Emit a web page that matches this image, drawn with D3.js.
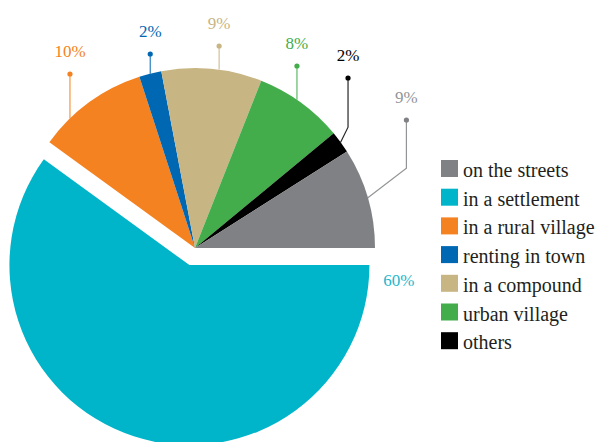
<!DOCTYPE html>
<html>
<head>
<meta charset="utf-8">
<script src="https://cdn.jsdelivr.net/npm/d3@7"></script>
</head>
<body style="margin:0">
<div id="chart"></div>
<script>
// Data, in legend order
const categories = ["on the streets", "in a settlement", "in a rural village",
    "renting in town", "in a compound", "urban village", "others"];
const shares = [9, 60, 10, 2, 9, 8, 2];
const colors = ["#808184", "#00b5c9", "#f58220", "#0068b3", "#c8b584", "#43ad4c", "#000000"];
const labelColors = ["#939598", "#1db7cc", "#f58220", "#0068b3", "#c8b584", "#43ad4c", "#000000"];
// order the slices are laid out clockwise from 3 o'clock
const sliceOrder = [1, 2, 3, 4, 5, 6, 0];

const width = 604, height = 442;
const cx = 195, cy = 248, R = 180;
const explode = 18;
const serif = "Liberation Serif";

// leader line layout per category (degrees / px)
const leaders = [
    {nudge: 0, elbowR: 226, elbowNudge: -4.5, rise: 128},
    null,
    {nudge: -8, rise: 174},
    {nudge: 0, rise: 194},
    {nudge: 2.3, rise: 202},
    {nudge: -1.5, rise: 182},
    {nudge: 0, elbowR: 195, elbowNudge: -2.3, rise: 170}
];

const rad = Math.PI / 180;
const polar = (a, r) => [cx + r * Math.sin(a), cy - r * Math.cos(a)];

const svg = d3.select("#chart")
    .append("svg")
    .attr("width", width)
    .attr("height", height)
    .style("display", "block");

const data = sliceOrder.map(i => ({i, value: shares[i]}));

const pie = d3.pie()
    .sort(null)
    .value(d => d.value)
    .startAngle(Math.PI / 2)
    .endAngle(Math.PI / 2 + 2 * Math.PI);

const arc = d3.arc().innerRadius(0).outerRadius(R);
const arcs = pie(data);

// slices
svg.append("g")
    .attr("transform", `translate(${cx},${cy})`)
    .selectAll("path")
    .data(arcs)
    .join("path")
    .attr("fill", d => colors[d.data.i])
    .attr("transform", d => {
        if (d.data.i !== 1) return null;
        const m = (d.startAngle + d.endAngle) / 2;
        return `translate(${explode * Math.sin(m)},${-explode * Math.cos(m)})`;
    })
    .attr("d", arc);

// labels with leader lines
const labels = svg.append("g");
arcs.forEach(d => {
    const i = d.data.i;
    const mid = (d.startAngle + d.endAngle) / 2;
    const txt = shares[i] + "%";
    const L = leaders[i];

    if (!L) {
        // exploded slice: plain label beside it
        const ox = explode * Math.sin(mid), oy = -explode * Math.cos(mid);
        const p = polar(Math.PI / 2 + 4 * rad, R + 30);
        labels.append("text")
            .attr("x", p[0] + ox)
            .attr("y", p[1] + oy + 6)
            .attr("text-anchor", "middle")
            .attr("fill", labelColors[i])
            .attr("font-family", serif)
            .attr("font-size", 17)
            .text(txt);
        return;
    }

    const a = mid + L.nudge * rad;
    const anchor = polar(a, R);
    const pts = [anchor];
    let top = anchor;
    if (L.elbowR) {
        top = polar(a + L.elbowNudge * rad, L.elbowR);
        pts.push(top);
    }
    const dot = [top[0], cy - L.rise];
    pts.push(dot);

    labels.append("path")
        .attr("d", d3.line()(pts))
        .attr("fill", "none")
        .attr("stroke", colors[i])
        .attr("stroke-width", 1.2)
        .attr("stroke-opacity", 0.85);

    labels.append("circle")
        .attr("cx", dot[0])
        .attr("cy", dot[1])
        .attr("r", 2.6)
        .attr("fill", colors[i]);

    labels.append("text")
        .attr("x", dot[0])
        .attr("y", dot[1] - 17)
        .attr("text-anchor", "middle")
        .attr("fill", labelColors[i])
        .attr("font-family", serif)
        .attr("font-size", 17)
        .text(txt);
});

// legend
const legend = svg.append("g")
    .attr("transform", "translate(441,160)");

const item = legend.selectAll("g")
    .data(categories)
    .join("g")
    .attr("transform", (d, i) => `translate(0,${i * 28.7})`);

item.append("rect")
    .attr("width", 17)
    .attr("height", 17)
    .attr("fill", (d, i) => colors[i]);

item.append("text")
    .attr("x", 22)
    .attr("y", 17)
    .attr("fill", "#231f20")
    .attr("font-family", serif)
    .attr("font-size", 20)
    .text(d => d);
</script>
</body>
</html>
